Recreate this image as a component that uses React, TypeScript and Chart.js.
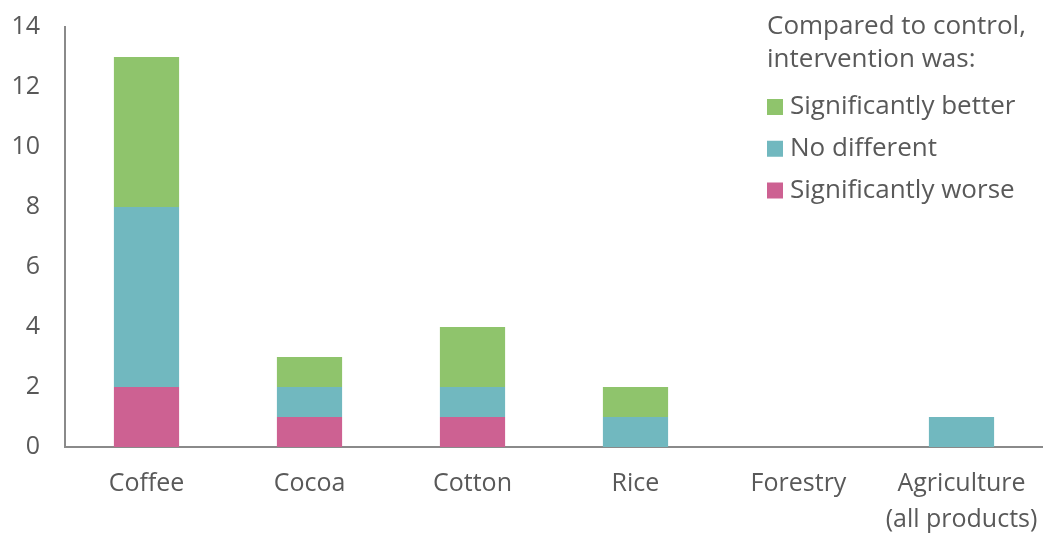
import React, { useEffect, useRef } from "react";
import { Chart, registerables } from "chart.js";

Chart.register(...registerables);

const CATEGORIES: (string | string[])[] = [
  "Coffee",
  "Cocoa",
  "Cotton",
  "Rice",
  "Forestry",
  ["Agriculture", "(all products)"],
];
const WORSE = [2, 1, 1, 0, 0, 0];
const NO_DIFFERENT = [6, 1, 1, 1, 0, 1];
const BETTER = [5, 1, 2, 1, 0, 0];
const Y_MIN = 0;
const Y_MAX = 14;
const Y_STEP = 2;
const LEGEND_TITLE = ["Compared to control,", "intervention was:"];

const FONT = "'Open Sans', 'Noto Sans', sans-serif";
const TEXT = "#595959";
const AXIS = "#8a8a8a";

const customLegend = {
  id: "customLegend",
  afterDraw(chart: any, _args: any, opts: any) {
    const ctx = chart.ctx;
    ctx.save();
    ctx.font = `${opts.fontSize}px ${FONT}`;
    ctx.fillStyle = TEXT;
    ctx.textAlign = "left";
    ctx.textBaseline = "middle";
    const titleLines: string[] = opts.title;
    titleLines.forEach((line, i) => {
      ctx.fillText(line, opts.x, opts.titleY + i * opts.titleLineHeight);
    });
    const ds = chart.data.datasets.slice().reverse();
    ds.forEach((d: any, i: number) => {
      const cy = opts.itemY + i * opts.itemSpacing;
      ctx.fillStyle = d.backgroundColor;
      ctx.fillRect(opts.x, cy - opts.box / 2, opts.box, opts.box);
      ctx.fillStyle = TEXT;
      ctx.fillText(d.label, opts.x + opts.box + 7, cy);
    });
    ctx.restore();
  },
};

export default function App() {
  const ref = useRef<HTMLCanvasElement>(null);

  useEffect(() => {
    if (!ref.current) return;
    const chart = new Chart(ref.current, {
      type: "bar",
      data: {
        labels: CATEGORIES,
        datasets: [
          { label: "Significantly worse", data: WORSE, backgroundColor: "#CD6192" },
          { label: "No different", data: NO_DIFFERENT, backgroundColor: "#71B8BF" },
          { label: "Significantly better", data: BETTER, backgroundColor: "#8FC46C" },
        ],
      },
      plugins: [customLegend],
      options: {
        responsive: false,
        animation: false,
        layout: { padding: { top: 27, right: 0, left: 0, bottom: 0 } },
        datasets: {
          bar: { barPercentage: 0.4, categoryPercentage: 1 },
        },
        plugins: {
          legend: { display: false },
          tooltip: { enabled: false },
          customLegend: {
            title: LEGEND_TITLE,
            fontSize: 26,
            x: 767,
            titleY: 27,
            titleLineHeight: 33,
            itemY: 107,
            itemSpacing: 41.75,
            box: 16,
          },
        } as any,
        scales: {
          x: {
            stacked: true,
            grid: { display: false, drawTicks: false },
            border: { display: true, color: AXIS, width: 2 },
            ticks: {
              color: TEXT,
              padding: 19,
              maxRotation: 0,
              autoSkip: false,
              font: { family: FONT, size: 25, lineHeight: 1.44 },
            },
            afterFit: (s: any) => {
              s.height = 87;
              s.paddingLeft = 0;
              s.paddingRight = 0;
            },
          },
          y: {
            stacked: true,
            min: Y_MIN,
            max: Y_MAX,
            grid: { display: false, drawTicks: false },
            border: { display: true, color: AXIS, width: 2 },
            ticks: {
              stepSize: Y_STEP,
              color: TEXT,
              padding: 25,
              font: { family: FONT, size: 25, lineHeight: 1.2 },
            },
            afterFit: (s: any) => {
              s.width = 65;
              s.paddingTop = 0;
              s.paddingBottom = 0;
            },
          },
        },
      } as any,
    });
    return () => chart.destroy();
  }, []);

  return (
    <div style={{ position: "fixed", top: 0, left: 0, width: 1043, height: 534, background: "#fff" }}>
      <canvas ref={ref} width={1043} height={534} style={{ display: "block" }} />
    </div>
  );
}
